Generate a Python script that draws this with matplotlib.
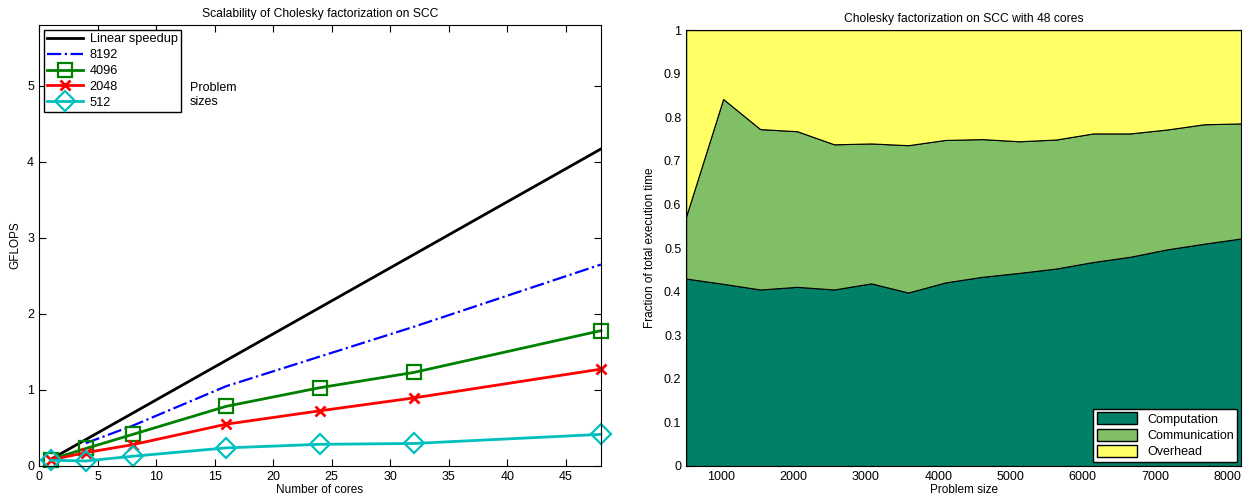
import matplotlib
matplotlib.use("Agg")
import matplotlib.pyplot as plt
from matplotlib.patches import Patch

plt.rcParams['font.family'] = ['Liberation Sans', 'DejaVu Sans']
plt.rcParams['font.size'] = 8.5

# Scalability data (GFLOPS versus number of cores)
cores = [1, 4, 8, 16, 24, 32, 48]
linear_speedup = [0.087, 0.348, 0.695, 1.39, 2.085, 2.78, 4.17]
cores_8192 = [4, 8, 16, 24, 32, 48]
gflops_8192 = [0.30, 0.53, 1.05, 1.44, 1.83, 2.65]
gflops_4096 = [0.085, 0.23, 0.415, 0.785, 1.03, 1.23, 1.78]
gflops_2048 = [0.08, 0.176, 0.28, 0.55, 0.726, 0.895, 1.274]
gflops_512 = [0.075, 0.066, 0.128, 0.238, 0.285, 0.296, 0.416]

# Execution-time breakdown with 48 cores
problem_sizes = [512, 1024, 1536, 2048, 2560, 3072, 3584, 4096,
                 4608, 5120, 5632, 6144, 6656, 7168, 7680, 8192]
computation = [0.430, 0.418, 0.405, 0.411, 0.405, 0.419, 0.398, 0.421,
               0.434, 0.443, 0.453, 0.468, 0.480, 0.497, 0.510, 0.522]
comp_plus_comm = [0.573, 0.842, 0.773, 0.768, 0.738, 0.740, 0.736, 0.748,
                  0.750, 0.745, 0.749, 0.763, 0.763, 0.772, 0.784, 0.786]
communication = [t - c for t, c in zip(comp_plus_comm, computation)]
overhead = [1.0 - t for t in comp_plus_comm]
part_names = ['Computation', 'Communication', 'Overhead']
part_colors = ['#008066', '#80bf66', '#ffff66']

fig = plt.figure(figsize=(12.43, 5.01), dpi=100)

# ---- left panel ----
ax1 = fig.add_axes([0.0314, 0.0699, 0.452, 0.880])
l0, = ax1.plot(cores, linear_speedup, color='black', lw=2, label='Linear speedup')
l1, = ax1.plot(cores_8192, gflops_8192, color='blue', lw=1.6, ls='-.', label='8192')
l2, = ax1.plot(cores, gflops_4096, color='green', lw=2, marker='s', ms=10,
               mfc='none', mew=1.6, label='4096', clip_on=False)
l3, = ax1.plot(cores, gflops_2048, color='red', lw=2, marker='x', ms=7,
               mew=2, label='2048', clip_on=False)
l4, = ax1.plot(cores, gflops_512, color='#00bfbf', lw=2, marker='D', ms=10,
               mfc='none', mew=1.6, label='512', clip_on=False)
ax1.set_xlim(0, 48)
ax1.set_ylim(0, 5.8)
ax1.set_xticks(range(0, 50, 5))
ax1.set_yticks(range(0, 6))
ax1.set_xlabel('Number of cores', labelpad=1)
ax1.set_ylabel('GFLOPS', labelpad=4)
ax1.set_title('Scalability of Cholesky factorization on SCC', fontsize=8.7, pad=6)
ax1.tick_params(direction='in', top=True, right=True, length=5, labelsize=9)
leg = ax1.legend(handles=[l0, l1, l2, l3, l4], loc='upper left', fancybox=False,
                 edgecolor='black', framealpha=1, fontsize=9.2, handlelength=2.8,
                 borderaxespad=0.4, labelspacing=0.3, borderpad=0.25,
                 handletextpad=0.5)
leg.get_frame().set_linewidth(1.0)
ax1.text(0.268, 0.87, 'Problem\nsizes', transform=ax1.transAxes, fontsize=9,
         va='top', ha='left', linespacing=1.2)

# ---- right panel ----
ax2 = fig.add_axes([0.552, 0.0699, 0.4465, 0.870])
polys = ax2.stackplot(problem_sizes, computation, communication, overhead,
                      colors=part_colors, edgecolor='black', linewidth=0.8)
ax2.set_xlim(512, 8192)
ax2.set_ylim(0, 1)
ax2.set_xticks(range(1000, 9000, 1000))
ax2.set_yticks([i / 10 for i in range(11)])
ax2.set_yticklabels(['0', '0.1', '0.2', '0.3', '0.4', '0.5', '0.6', '0.7',
                     '0.8', '0.9', '1'])
ax2.set_axisbelow(True)
ax2.tick_params(direction='in', top=True, right=True, length=5, labelsize=9)
ax2.set_xlabel('Problem size', labelpad=1)
ax2.set_ylabel('Fraction of total execution time', labelpad=6)
ax2.set_title('Cholesky factorization on SCC with 48 cores', fontsize=8.7, pad=6)
handles = [Patch(facecolor=c, edgecolor='black', label=n)
           for c, n in zip(part_colors, part_names)]
leg2 = ax2.legend(handles=handles, loc='lower right', fancybox=False,
                  edgecolor='black', framealpha=1, fontsize=9,
                  borderaxespad=0.3, labelspacing=0.25, borderpad=0.3,
                  handlelength=3.2, handleheight=1.1)
leg2.get_frame().set_linewidth(1.0)

fig.savefig('out.png', dpi=100)
